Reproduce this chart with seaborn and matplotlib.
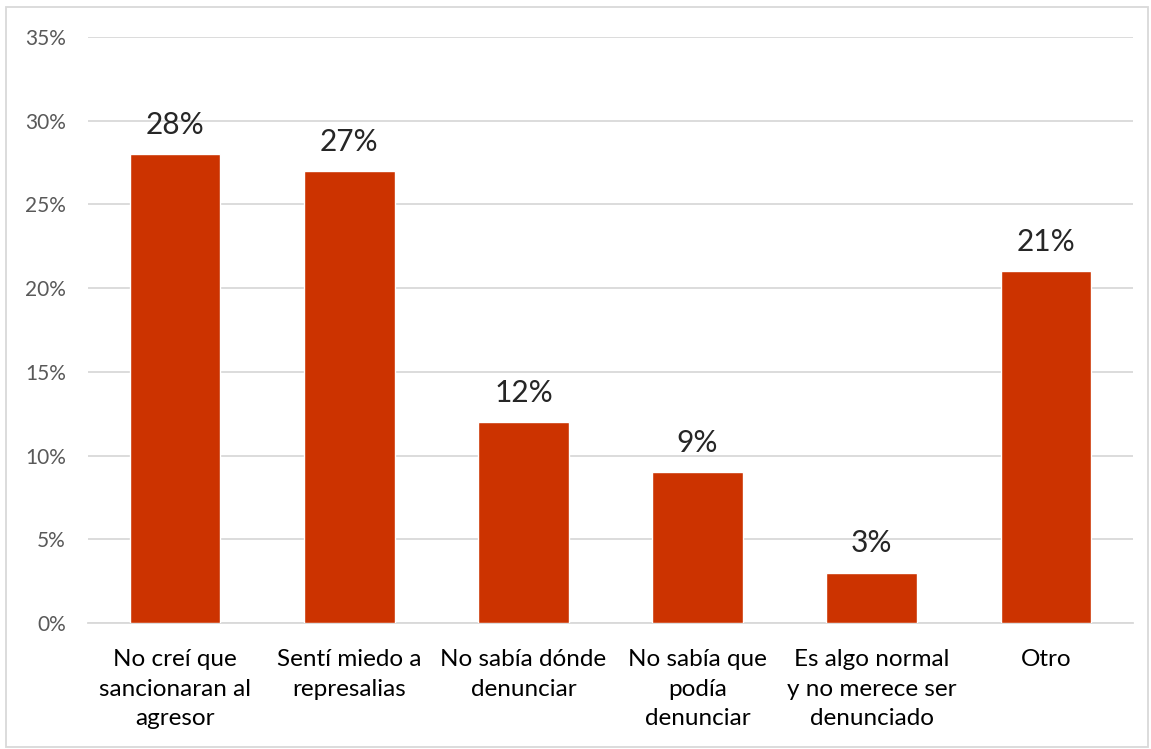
import matplotlib
matplotlib.use("Agg")
import matplotlib.pyplot as plt
import seaborn as sns
import pandas as pd
from matplotlib.patches import Rectangle
from matplotlib.ticker import FuncFormatter

categories = [
    "No creí que\nsancionaran al\nagresor",
    "Sentí miedo a\nrepresalias",
    "No sabía dónde\ndenunciar",
    "No sabía que\npodía\ndenunciar",
    "Es algo normal\ny no merece ser\ndenunciado",
    "Otro",
]
values = [0.28, 0.27, 0.12, 0.09, 0.03, 0.21]
labels = ["28%", "27%", "12%", "9%", "3%", "21%"]
yticks = [0, 0.05, 0.10, 0.15, 0.20, 0.25, 0.30, 0.35]

sns.set_theme(style="white")
plt.rcParams['font.family'] = ['Lato', 'DejaVu Sans']

df = pd.DataFrame({"cat": categories, "val": values})

fig = plt.figure(figsize=(11.51, 7.49), dpi=100)
ax = fig.add_axes([88/1151, 1-623/749, (1133-88)/1151, (623-37)/749])

sns.barplot(data=df, x="cat", y="val", color="#CC3300", saturation=1, width=0.52, ax=ax, zorder=3)

ax.set_ylim(0, 0.35)
ax.set_xlim(-0.5, len(categories) - 0.5)
ax.set_yticks(yticks)
ax.yaxis.set_major_formatter(FuncFormatter(lambda v, p: f"{round(v*100)}%"))
ax.grid(axis="y", color="#D9D9D9", linewidth=1.3, zorder=0)
ax.set_axisbelow(True)
for s in ["top", "right", "left"]:
    ax.spines[s].set_visible(False)
ax.spines["bottom"].set_color("#D9D9D9")
ax.spines["bottom"].set_linewidth(1.3)
ax.set_xlabel("")
ax.set_ylabel("")
ax.tick_params(axis="y", labelsize=15, labelcolor="#595959", length=0, pad=16)
ax.tick_params(axis="x", labelsize=17.5, labelcolor="#000000", length=0, pad=19)
for t in ax.get_xticklabels():
    t.set_linespacing(1.5)
    t.set_verticalalignment("top")

for i, (v, lab) in enumerate(zip(values, labels)):
    ax.annotate(lab, (i, v), xytext=(0, 11), textcoords="offset points",
                ha="center", va="bottom", fontsize=21.5, color="#262626")

fig.patches.append(Rectangle((6/1151, 1-747/749), (1148-6)/1151, (747-7)/749,
                             transform=fig.transFigure, fill=False,
                             edgecolor="#D9D9D9", linewidth=1.3))

fig.savefig("out.png", dpi=100)
